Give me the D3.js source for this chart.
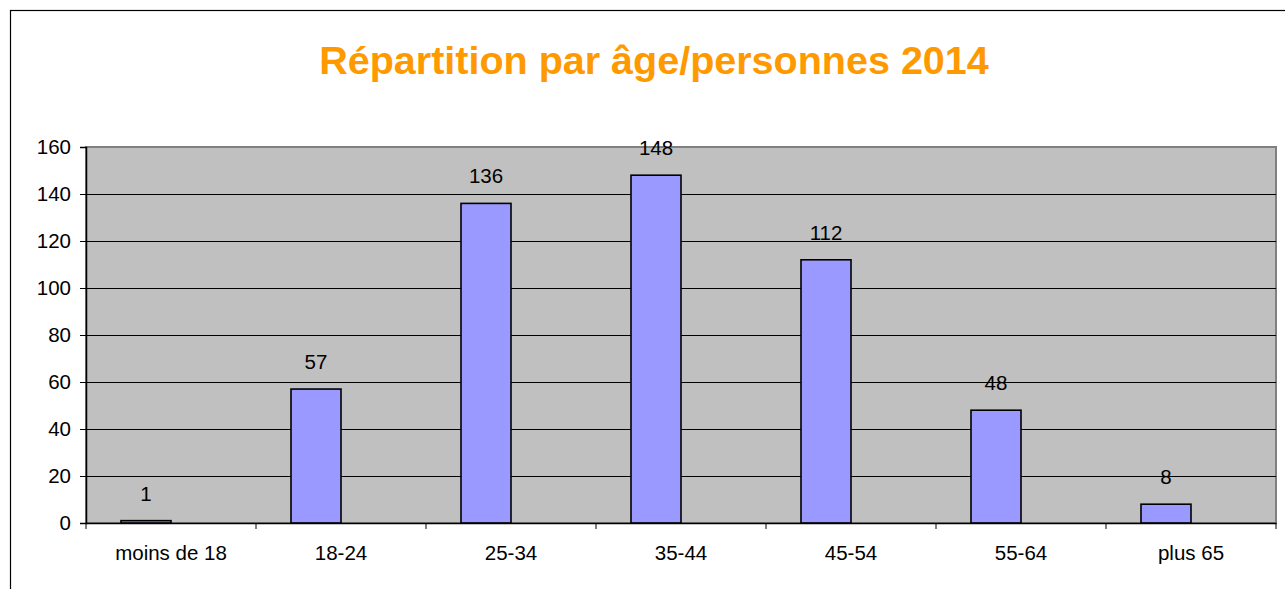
<!DOCTYPE html>
<html>
<head>
<meta charset="utf-8">
<script src="https://cdn.jsdelivr.net/npm/d3@7"></script>
<style>
  body { margin: 0; background: #fff; }
  text { font-family: "Liberation Sans", Arial, sans-serif; }
</style>
</head>
<body>
<div id="chart"></div>
<script>
// chart data
const categories = ["moins de 18", "18-24", "25-34", "35-44", "45-54", "55-64", "plus 65"];
const values = [1, 57, 136, 148, 112, 48, 8];
const yTicks = [0, 20, 40, 60, 80, 100, 120, 140, 160];
const title = "Répartition par âge/personnes 2014";

const W = 1285, H = 589;
const margin = {top: 147, right: 9, bottom: 66, left: 86};
const width = W - margin.left - margin.right;
const height = H - margin.top - margin.bottom;
const fontSize = "20.5px";

const svg = d3.select("#chart")
  .append("svg")
    .attr("width", W)
    .attr("height", H);

// outer chart border
svg.append("rect")
  .attr("x", 10.5)
  .attr("y", 10.5)
  .attr("width", W + 10)
  .attr("height", H + 10)
  .attr("fill", "none")
  .attr("stroke", "#000")
  .attr("stroke-width", 1.2);

// title
svg.append("text")
  .attr("x", 654)
  .attr("y", 74)
  .attr("text-anchor", "middle")
  .attr("fill", "#FF9900")
  .style("font-size", "39.5px")
  .style("font-weight", "bold")
  .text(title);

const g = svg.append("g")
  .attr("transform", `translate(${margin.left}, ${margin.top})`);

const xScale = d3.scaleBand()
  .domain(categories)
  .range([0, width]);

const yScale = d3.scaleLinear()
  .domain([0, 160])
  .range([height, 0]);

// plot area
g.append("rect")
  .attr("width", width)
  .attr("height", height)
  .attr("fill", "#C0C0C0")
  .attr("stroke", "#808080")
  .attr("stroke-width", 2);

// horizontal grid lines
g.append("g")
  .call(d3.axisLeft(yScale).tickValues(yTicks.slice(1, -1)).tickSize(-width).tickFormat(""))
  .call(a => a.select(".domain").remove())
  .call(a => a.selectAll("line").attr("stroke", "#000").attr("stroke-width", 1));

// bars (offset left of category centre, like the original)
const barW = 50;
g.selectAll("rect.bar")
  .data(values)
  .join("rect")
    .attr("class", "bar")
    .attr("x", (d, i) => xScale(categories[i]) + xScale.bandwidth() / 2 - barW)
    .attr("y", d => yScale(d))
    .attr("width", barW)
    .attr("height", d => height - yScale(d))
    .attr("fill", "#9999FF")
    .attr("stroke", "#000")
    .attr("stroke-width", 1.6);

// data labels
g.selectAll("text.label")
  .data(values)
  .join("text")
    .attr("class", "label")
    .attr("x", (d, i) => xScale(categories[i]) + xScale.bandwidth() / 2 - barW / 2)
    .attr("y", d => yScale(d) - 20)
    .attr("text-anchor", "middle")
    .style("font-size", fontSize)
    .attr("fill", "#000")
    .text(d => d);

// y axis
g.append("g")
  .call(d3.axisLeft(yScale).tickValues(yTicks).tickSize(6).tickPadding(9))
  .call(a => a.select(".domain").attr("stroke", "#000").attr("stroke-width", 1.5))
  .call(a => a.selectAll("line").attr("stroke", "#000"))
  .call(a => a.selectAll("text").style("font-size", fontSize).attr("fill", "#000")
    .style("font-family", "'Liberation Sans', Arial, sans-serif"));

// x axis with ticks at category boundaries
const xAxis = g.append("g")
  .attr("transform", `translate(0, ${height})`)
  .call(d3.axisBottom(xScale).tickSize(0).tickPadding(22))
  .call(a => a.select(".domain").attr("stroke", "#000").attr("stroke-width", 1.5))
  .call(a => a.selectAll("text").style("font-size", fontSize).attr("fill", "#000")
    .style("font-family", "'Liberation Sans', Arial, sans-serif"));

const bounds = categories.map(c => xScale(c)).concat([width]);
xAxis.selectAll("line.bound")
  .data(bounds)
  .join("line")
    .attr("class", "bound")
    .attr("x1", d => d)
    .attr("x2", d => d)
    .attr("y1", 0)
    .attr("y2", 6)
    .attr("stroke", "#000");
</script>
</body>
</html>
